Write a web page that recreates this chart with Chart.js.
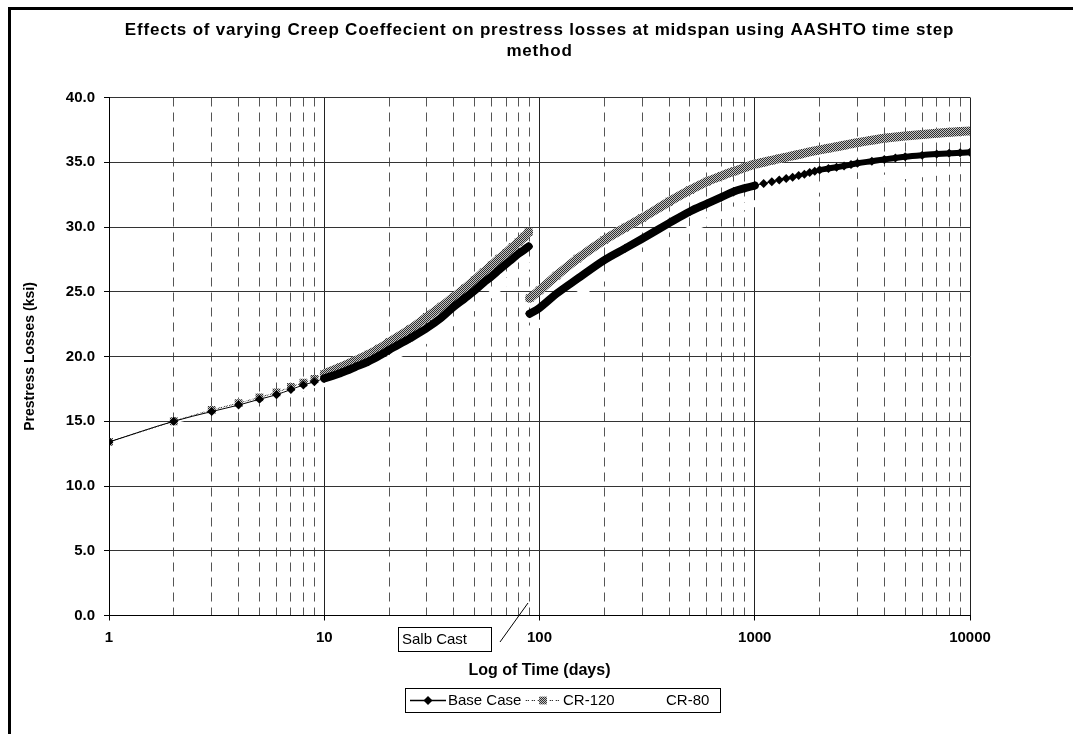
<!DOCTYPE html>
<html>
<head>
<meta charset="utf-8">
<title>Creep coefficient and prestress losses</title>
<script src="https://cdn.jsdelivr.net/npm/chart.js@4.4.1/dist/chart.umd.min.js"></script>
<style>
  html, body { margin: 0; padding: 0; background: #fff; }
  #wrap { width: 1073px; height: 734px; }
</style>
</head>
<body>
<div id="wrap"><canvas id="chart" width="1073" height="734"></canvas></div>
<script>
// --- text ---
const titleLines = ['Effects of varying Creep Coeffecient on prestress losses at midspan using AASHTO time step', 'method'];
const xTitle = 'Log of Time (days)';
const yTitle = 'Prestress Losses (ksi)';
const seriesNames = ['Base Case', 'CR-120', 'CR-80'];
const noteText = 'Salb Cast';

// --- data ---
const days = [1, 2, 3, 4, 5, 6, 7, 8, 9, 10,
    12, 14, 16, 18, 20, 25, 30, 35, 40, 45, 50, 55, 60, 65, 70, 75, 80, 85, 89,
    90, 100, 120, 150, 200, 250, 300, 400, 500, 600, 700, 800, 900, 1000,
    1100, 1200, 1300, 1400, 1500, 1600, 1700, 1800, 1900, 2000,
    2200, 2400, 2600, 2800, 3000, 3500, 4000, 4500, 5000, 6000, 7000, 8000, 9000, 10000];

const baseCase = [13.4, 15.0, 15.75, 16.25, 16.7, 17.05, 17.45, 17.8, 18.05, 18.3,
    18.75, 19.2, 19.6, 20.05, 20.5, 21.4, 22.2, 23.0, 23.85, 24.5, 25.1, 25.7, 26.2, 26.7, 27.15, 27.55, 27.95, 28.25, 28.5,
    23.3, 23.75, 24.85, 26.0, 27.45, 28.35, 29.1, 30.3, 31.2, 31.8, 32.3, 32.75, 33.0, 33.2,
    33.35, 33.5, 33.62, 33.75, 33.85, 33.97, 34.08, 34.2, 34.3, 34.4,
    34.52, 34.62, 34.72, 34.82, 34.92, 35.08, 35.22, 35.33, 35.43, 35.55, 35.63, 35.69, 35.74, 35.77];

const cr120 = [13.4, 15.0, 15.87, 16.4, 16.85, 17.23, 17.65, 17.98, 18.28, 18.65,
    19.2, 19.7, 20.15, 20.6, 21.1, 22.1, 23.05, 23.85, 24.6, 25.25, 25.9, 26.5, 27.05, 27.55, 28.0, 28.45, 28.85, 29.25, 29.6,
    24.5, 25.1, 26.25, 27.55, 29.0, 29.95, 30.7, 31.95, 32.85, 33.5, 33.95, 34.3, 34.6, 34.85,
    35.0, 35.15, 35.28, 35.4, 35.5, 35.6, 35.7, 35.8, 35.88, 35.95,
    36.08, 36.2, 36.31, 36.42, 36.52, 36.7, 36.85, 36.95, 37.03, 37.15, 37.24, 37.31, 37.37, 37.42];

// CR-80 is plotted in white in the original, only visible where it cuts the grid
const cr80 = [13.4, 14.9, 15.6, 16.05, 16.45, 16.8, 17.1, 17.4, 17.65, 17.9,
    18.3, 18.7, 19.05, 19.45, 19.8, 20.6, 21.3, 22.0, 22.7, 23.3, 23.85, 24.4, 24.85, 25.3, 25.7, 26.1, 26.45, 26.75, 27.0,
    22.1, 22.5, 23.55, 24.7, 26.1, 27.0, 27.75, 28.9, 29.8, 30.4, 30.9, 31.3, 31.6, 31.8,
    31.95, 32.1, 32.22, 32.34, 32.45, 32.55, 32.65, 32.75, 32.85, 32.93,
    33.05, 33.15, 33.25, 33.35, 33.45, 33.62, 33.76, 33.88, 33.98, 34.12, 34.22, 34.3, 34.35, 34.4];

const slabDay = 90;

// --- axis ticks ---
const xTicks = [1, 2, 3, 4, 5, 6, 7, 8, 9,
    10, 20, 30, 40, 50, 60, 70, 80, 90,
    100, 200, 300, 400, 500, 600, 700, 800, 900,
    1000, 2000, 3000, 4000, 5000, 6000, 7000, 8000, 9000, 10000];
const xMajor = [1, 10, 100, 1000, 10000];
const yTicks = [0, 5, 10, 15, 20, 25, 30, 35, 40];

const FONT = 'Arial, "Liberation Sans", sans-serif';

function isMajor(c) { return c.tick && xMajor.includes(c.tick.value); }

function hatch(ctx) {
    const c = document.createElement('canvas');
    c.width = 2; c.height = 2;
    const g = c.getContext('2d');
    g.fillStyle = '#c4c4c4'; g.fillRect(0, 0, 2, 2);
    g.fillStyle = '#303030'; g.fillRect(0, 0, 1, 1); g.fillRect(1, 1, 1, 1);
    return ctx.createPattern(c, 'repeat');
}

const canvas = document.getElementById('chart');
const gray = hatch(canvas.getContext('2d'));

// look of each series; "band" = line width where the markers pile up
const styles = [
    { color: '#000', pointStyle: 'rectRot', radius: 4.5, thin: 1, dash: [], band: x => (x >= 10 && x < 1000) ? 8 : (x >= 2000 ? 6 : 0), order: 0 },
    { color: gray, pointStyle: 'rect', radius: 5.5, thin: 1, dash: [4, 2], band: x => x >= 10 ? 9 : 0, order: 1 },
    { color: '#fff', pointStyle: false, radius: 0, thin: 2, dash: [], band: x => x >= 10 ? 7 : 0, order: 2 },
];

// each series is split at the slab casting day into two pieces
function makeSeries(i, values) {
    const st = styles[i];
    const part = keep => days.map((d, k) => ({ x: d, y: values[k] })).filter(p => keep(p.x));
    return [part(x => x < slabDay), part(x => x >= slabDay)].map((data, j) => ({
        label: seriesNames[i],
        data,
        legendHidden: j > 0,
        order: st.order,
        borderColor: st.color,
        backgroundColor: st.color,
        borderWidth: st.thin,
        borderDash: st.dash,
        borderCapStyle: 'round',
        borderJoinStyle: 'round',
        cubicInterpolationMode: 'monotone',
        pointStyle: st.pointStyle,
        pointRadius: st.radius,
        pointBorderWidth: 0,
        segment: {
            borderWidth: c => st.band(c.p0.parsed.x) || undefined,
            borderDash: c => st.band(c.p0.parsed.x) ? [] : undefined,
        },
    }));
}

const decorations = {
    id: 'decorations',
    beforeDraw(chart) {
        const { ctx, width, height } = chart;
        ctx.save();
        ctx.fillStyle = '#fff';
        ctx.fillRect(0, 0, width, height);
        ctx.restore();
    },
    afterDraw(chart) {
        const { ctx, chartArea } = chart;
        ctx.save();
        // frame
        ctx.strokeStyle = '#000';
        ctx.lineWidth = 3;
        ctx.beginPath();
        ctx.moveTo(9.5, 734); ctx.lineTo(9.5, 8.5); ctx.lineTo(1073, 8.5);
        ctx.stroke();

        // title
        ctx.fillStyle = '#000';
        ctx.font = 'bold 17px ' + FONT;
        ctx.letterSpacing = '0.8px';
        ctx.textAlign = 'center';
        ctx.textBaseline = 'middle';
        const cx = (chartArea.left + chartArea.right) / 2;
        titleLines.forEach((t, i) => ctx.fillText(t, cx, 30 + i * 21));
        ctx.letterSpacing = '0px';

        // slab cast note
        ctx.lineWidth = 1;
        ctx.strokeRect(398.5, 627.5, 93, 24);
        ctx.font = '15px ' + FONT;
        ctx.textAlign = 'left';
        ctx.fillText(noteText, 402, 640);
        ctx.beginPath();
        ctx.moveTo(500, 642); ctx.lineTo(528, 603);
        ctx.stroke();

        // legend
        ctx.strokeRect(405.5, 688.5, 315, 24);
        const slots = [410, 525, 628];
        const ly = 700.5;
        chart.data.datasets.filter(ds => !ds.legendHidden).forEach((ds, i) => {
            const sx = slots[i];
            ctx.save();
            ctx.strokeStyle = ds.borderColor;
            ctx.fillStyle = ds.backgroundColor;
            ctx.lineWidth = i === 0 ? 1.5 : 1;
            ctx.setLineDash(ds.borderDash || []);
            ctx.beginPath(); ctx.moveTo(sx, ly); ctx.lineTo(sx + 36, ly); ctx.stroke();
            ctx.setLineDash([]);
            if (ds.pointRadius > 0) {
                Chart.helpers.drawPoint(ctx, { pointStyle: ds.pointStyle, radius: ds.pointRadius, rotation: 0, borderWidth: 0 }, sx + 18, ly);
            }
            ctx.restore();
            ctx.fillStyle = '#000';
            ctx.font = '15px ' + FONT;
            ctx.textAlign = 'left';
            ctx.textBaseline = 'middle';
            ctx.fillText(ds.label, sx + 38, ly);
        });
        ctx.restore();
    }
};

Chart.defaults.font.family = FONT;
Chart.defaults.color = '#000';

new Chart(canvas, {
    type: 'line',
    data: {
        datasets: [
            ...makeSeries(0, baseCase),
            ...makeSeries(1, cr120),
            ...makeSeries(2, cr80),
        ],
    },
    options: {
        responsive: false,
        animation: false,
        layout: { padding: { left: 12, right: 103, top: 97.5, bottom: 0 } },
        plugins: { legend: { display: false }, tooltip: { enabled: false } },
        scales: {
            x: {
                type: 'logarithmic',
                min: 1,
                max: 10000,
                afterBuildTicks: s => { s.ticks = xTicks.map(v => ({ value: v, major: xMajor.includes(v) })); },
                afterFit: s => { s.height = 118.5; },
                ticks: {
                    autoSkip: false,
                    maxRotation: 0,
                    padding: 8,
                    color: '#000',
                    font: { size: 15, weight: 'bold' },
                    callback: v => xMajor.includes(v) ? String(v) : '',
                },
                grid: {
                    color: c => isMajor(c) ? '#222' : '#555',
                    lineWidth: 1,
                    tickLength: 5,
                    tickColor: c => isMajor(c) ? '#000' : 'rgba(0,0,0,0)',
                },
                border: {
                    color: '#000',
                    width: 1,
                    dash: c => (c.tick && !xMajor.includes(c.tick.value)) ? [9, 6] : [],
                },
                title: {
                    display: true,
                    text: xTitle,
                    color: '#000',
                    font: { size: 16, weight: 'bold' },
                    padding: { top: 0, bottom: 54 },
                },
            },
            y: {
                min: 0,
                max: 40,
                afterBuildTicks: s => { s.ticks = yTicks.map(v => ({ value: v })); },
                afterFit: s => { s.width = 97; },
                ticks: {
                    padding: 9,
                    color: '#000',
                    font: { size: 15, weight: 'bold' },
                    callback: v => Number(v).toFixed(1),
                },
                grid: { color: '#333', lineWidth: 1, tickLength: 5, tickColor: '#000' },
                border: { color: '#000', width: 1 },
                title: {
                    display: true,
                    text: yTitle,
                    color: '#000',
                    font: { size: 14, weight: 'bold' },
                    padding: { top: 10, bottom: 0 },
                },
            },
        },
    },
    plugins: [decorations],
});
</script>
</body>
</html>
